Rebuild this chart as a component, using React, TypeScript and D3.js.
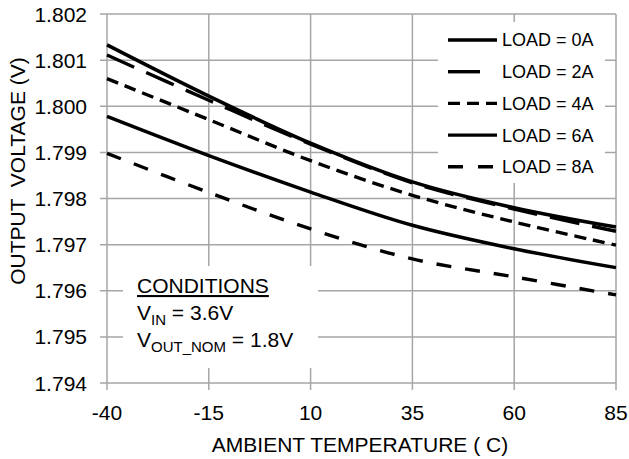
import React from 'react'
import * as d3 from 'd3'

// values, one entry per temperature
const temps = [-40, -15, 10, 35, 60, 85]
const load0A = [1.80133, 1.80022, 1.7992, 1.79836, 1.7978, 1.79738]
const load2A = [1.80111, 1.80013, 1.79918, 1.79834, 1.79777, 1.79729]
const load4A = [1.8006, 1.79971, 1.79882, 1.79807, 1.79749, 1.79699]
const load6A = [1.79978, 1.79893, 1.79814, 1.79742, 1.79691, 1.7965]
const load8A = [1.79898, 1.79813, 1.79734, 1.79669, 1.7963, 1.79591]

const xTicks = [-40, -15, 10, 35, 60, 85]
const yTicks = [1.794, 1.795, 1.796, 1.797, 1.798, 1.799, 1.8, 1.801, 1.802]
const legendLabels = ['LOAD = 0A', 'LOAD = 2A', 'LOAD = 4A', 'LOAD = 6A', 'LOAD = 8A']

const width = 629
const height = 459
const margin = { top: 14, right: 13, bottom: 76, left: 107 }
const font = '"Liberation Sans", Arial, sans-serif'
const grid = '#a6a6a6'

const series = [
  { values: load0A, dash: 'none', legendDash: 'none', w: 3.6 },
  { values: load2A, dash: '30 13', legendDash: '32 20', w: 3.4 },
  { values: load4A, dash: '12 7', legendDash: '12 7', w: 3.4 },
  { values: load6A, dash: 'none', legendDash: 'none', w: 3.4 },
  { values: load8A, dash: '15 14', legendDash: '15 15', w: 3.4 },
]

const App: React.FC = () => {
  const x = d3.scaleLinear([-40, 85], [margin.left, width - margin.right])
  const y = d3.scaleLinear([1.794, 1.802], [height - margin.bottom, margin.top])
  const [x0, x1] = x.range()
  const [yb, yt] = y.range()

  const line = d3
    .line<number>()
    .x((_, i) => x(temps[i]))
    .y((d) => y(d))
    .curve(d3.curveCatmullRom.alpha(0.5))

  return (
    <svg width={width} height={height} style={{ position: 'absolute', left: 0, top: 0, background: '#fff' }}>
      <rect width={width} height={height} fill="#fff" />
      {/* grid + ticks */}
      {yTicks.map((t) => (
        <line key={'gy' + t} x1={x0 - 7} x2={x1} y1={y(t)} y2={y(t)} stroke={grid} strokeWidth={1.5} />
      ))}
      {xTicks.map((t) => (
        <line key={'gx' + t} x1={x(t)} x2={x(t)} y1={yt} y2={yb + 7} stroke={grid} strokeWidth={1.5} />
      ))}

      {/* white boxes hiding the grid */}
      <rect x={438} y={22} width={167} height={161} fill="#fff" />
      <rect x={123} y={266} width={195} height={102} fill="#fff" />

      {series.map((s, i) => (
        <path
          key={'s' + i}
          d={line(s.values) || ''}
          fill="none"
          stroke="#000"
          strokeWidth={s.w}
          strokeDasharray={s.dash}
        />
      ))}

      {/* tick labels */}
      {yTicks.map((t) => (
        <text key={'ly' + t} x={x0 - 20} y={y(t)} dy="0.36em" textAnchor="end" fontFamily={font} fontSize={21}>
          {d3.format('.3f')(t)}
        </text>
      ))}
      {xTicks.map((t) => (
        <text key={'lx' + t} x={x(t)} y={yb + 37} textAnchor="middle" fontFamily={font} fontSize={21}>
          {t}
        </text>
      ))}

      {/* axis titles */}
      <text x={360} y={452} textAnchor="middle" fontFamily={font} fontSize={21}>
        AMBIENT TEMPERATURE ( C)
      </text>
      <text
        transform="translate(25,171) rotate(-90)"
        textAnchor="middle"
        fontFamily={font}
        fontSize={21}
        style={{ whiteSpace: 'pre' }}
      >
        {'OUTPUT  VOLTAGE (V)'}
      </text>

      {/* legend */}
      {series.map((s, i) => {
        const ly = 40 + i * 31.7
        return (
          <g key={'lg' + i}>
            <line x1={448} x2={497} y1={ly} y2={ly} stroke="#000" strokeWidth={s.w} strokeDasharray={s.legendDash} />
            <text x={502} y={ly} dy="0.36em" fontFamily={font} fontSize={18}>
              {legendLabels[i]}
            </text>
          </g>
        )
      })}

      {/* conditions */}
      <text x={137} y={293} fontFamily={font} fontSize={21} textDecoration="underline">
        CONDITIONS
      </text>
      <text x={137} y={320} fontFamily={font} fontSize={21}>
        V<tspan fontSize={15} dy={5}>IN</tspan>
        <tspan dy={-5}> = 3.6V</tspan>
      </text>
      <text x={137} y={347} fontFamily={font} fontSize={21}>
        V<tspan fontSize={15} dy={5}>OUT_NOM</tspan>
        <tspan dy={-5}> = 1.8V</tspan>
      </text>
    </svg>
  )
}

export default App
